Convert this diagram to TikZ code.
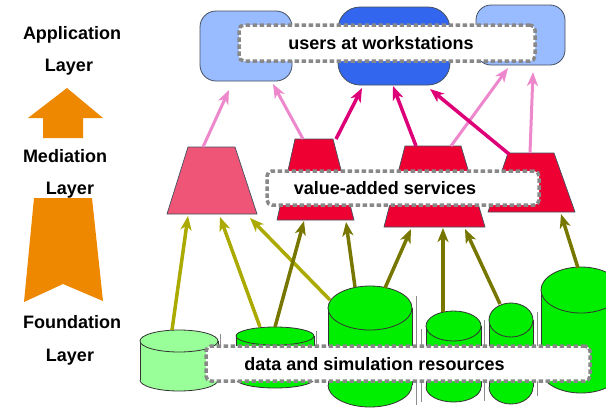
\documentclass[tikz,border=0pt]{standalone}
\usepackage{fontspec}
\setmainfont{Liberation Sans}
\usetikzlibrary{arrows.meta}

\definecolor{lightblue}{HTML}{99BBFF}
\definecolor{deepblue}{HTML}{3366EE}
\definecolor{rosered}{HTML}{EE5577}
\definecolor{brightred}{HTML}{EE0033}
\definecolor{palegreen}{HTML}{99FF99}
\definecolor{limegreen}{HTML}{00EE00}
\definecolor{ochre}{HTML}{EE8800}
\definecolor{pinkline}{HTML}{EE88CC}
\definecolor{magline}{HTML}{DD0077}
\definecolor{olivelight}{HTML}{AAAA00}
\definecolor{olivedark}{HTML}{777700}
\definecolor{dotgray}{HTML}{888888}
\definecolor{edgegray}{HTML}{445060}

% storage drum: centre x, top-centre y, x radius, y radius, bottom-centre y, fill
\newcommand{\tank}[6]{%
  \fill[#6] (#1-#3,#2) rectangle (#1+#3,#5);
  \fill[#6] (#1,#5) ellipse[x radius=#3, y radius=#4];
  \begin{scope}
    \clip (#1-#3-2,#5) rectangle (#1+#3+2,#5+#4+2);
    \draw[tankedge] (#1,#5) ellipse[x radius=#3, y radius=#4];
  \end{scope}
  \draw[tankedge] (#1-#3,#2) -- (#1-#3,#5) (#1+#3,#2) -- (#1+#3,#5);
  \draw[tankedge, fill=#6] (#1,#2) ellipse[x radius=#3, y radius=#4];
}

\begin{document}
\begin{tikzpicture}[x=1pt, y=-1pt,
  layerlbl/.style={font=\fontsize{18}{20}\selectfont\bfseries, anchor=base, inner sep=0pt},
  boxlbl/.style={font=\fontsize{18}{20}\selectfont\bfseries, anchor=base, inner sep=0pt},
  dotbox/.style={draw=dotgray, line width=3.5pt, dash pattern=on 4.5pt off 2.5pt,
    fill=white, rounded corners=5pt, inner sep=0pt},
  station/.style={draw=edgegray, line width=0.8pt, rounded corners=#1, inner sep=0pt},
  service/.style={draw=edgegray, line width=0.7pt},
  tankedge/.style={draw=black!80, line width=0.8pt},
  shadowline/.style={draw=black!45, line width=0.8pt},
  tip/.style={-{Stealth[length=14pt, width=11pt, inset=4pt]}},
  pinkarrow/.style={tip, draw=pinkline, line width=3pt},
  magarrow/.style={tip, draw=magline, line width=3.5pt},
  feedlight/.style={tip, draw=olivelight, line width=3.5pt},
  feeddark/.style={tip, draw=olivedark, line width=3.5pt},
]
\useasboundingbox (0,0) rectangle (606,408);
\fill[white] (0,0) rectangle (606,408);

% ---- layer captions and direction arrows ----
\node[layerlbl] (appA) at (72,39) {Application};
\node[layerlbl] (appB) at (69,71) {Layer};
\node[layerlbl] (medA) at (65,162) {Mediation};
\node[layerlbl] (medB) at (70,194) {Layer};
\node[layerlbl] (fndA) at (72,328) {Foundation};
\node[layerlbl] (fndB) at (70,361) {Layer};

\fill[ochre] (67,88) -- (103,118) -- (83,118) -- (83,138) -- (43,138)
  -- (43,118) -- (28,118) -- cycle;
\fill[ochre] (34,198) -- (92,198) -- (103,301) -- (63,284) -- (24,302) -- cycle;

% ---- application layer: workstations ----
\node[station=16pt, fill=lightblue, minimum width=92pt, minimum height=70pt] (wsL) at (246,46) {};
\node[station=22pt, fill=deepblue, minimum width=112pt, minimum height=78pt] (wsM) at (394,46) {};
\node[station=15pt, fill=lightblue, minimum width=89pt, minimum height=60pt] (wsR) at (520.5,35) {};

% ---- mediation layer: services ----
\draw[service, fill=rosered] (188,147) -- (235,147) -- (257,214) -- (167,214) -- cycle;
\draw[service, fill=brightred] (295,139) -- (333,139) -- (354,220) -- (277,220) -- cycle;
\draw[service, fill=brightred] (405,146) -- (461,146) -- (485,227) -- (384,227) -- cycle;
\draw[service, fill=brightred] (508,153) -- (554,153) -- (575,212) -- (488,212) -- cycle;

% ---- foundation layer: resources ----
\draw[shadowline] (220,334) -- (220,352);
\draw[shadowline] (316,331) -- (316,350);
\draw[shadowline] (416,296) -- (416,405);
\draw[shadowline] (421,329) -- (421,402);
\draw[shadowline] (484,320) -- (484,401);
\draw[shadowline] (537,312) -- (537,396);
\tank{179}{341}{39}{11}{380}{palegreen}
\tank{275}{336}{39}{9}{379}{limegreen}
\tank{370}{308}{42}{22}{385}{limegreen}
\tank{453.5}{326}{27.5}{15}{387}{limegreen}
\tank{511}{320}{22}{17}{387}{limegreen}
\tank{581}{290}{40}{23}{370}{limegreen}

% ---- connector end points ----
\coordinate (wsL-a) at (229,90);
\coordinate (wsL-b) at (273,84);
\coordinate (wsR-a) at (508,68);
\coordinate (wsR-b) at (533,72);
\coordinate (wsM-a) at (362,88);
\coordinate (wsM-b) at (393,86);
\coordinate (wsM-c) at (430,89);

\coordinate (sv1-top) at (203,147);
\coordinate (sv2-topL) at (303,139);
\coordinate (sv2-topR) at (336,139);
\coordinate (sv3-topL) at (416,146);
\coordinate (sv3-topR) at (451,146);
\coordinate (sv4-topL) at (509,154);
\coordinate (sv4-topR) at (530,153);

\coordinate (sv1-a) at (188,216);
\coordinate (sv1-b) at (220,217);
\coordinate (sv1-c) at (250,218);
\coordinate (sv2-a) at (304,221);
\coordinate (sv2-b) at (346,222);
\coordinate (sv3-a) at (411,229);
\coordinate (sv3-b) at (443,228);
\coordinate (sv3-c) at (465,229);
\coordinate (sv4-a) at (561,214);

\coordinate (rs1) at (172,330);
\coordinate (rs2-a) at (260,327);
\coordinate (rs2-b) at (275,327);
\coordinate (rs3-a) at (330,300);
\coordinate (rs3-b) at (355,287);
\coordinate (rs3-c) at (385,288);
\coordinate (rs4) at (443,312);
\coordinate (rs5) at (500,304);
\coordinate (rs6) at (578,268);

% ---- services feed workstations ----
\draw[pinkarrow] (sv1-top) -- (wsL-a);
\draw[pinkarrow] (sv2-topL) -- (wsL-b);
\draw[pinkarrow] (sv3-topR) -- (wsR-a);
\draw[pinkarrow] (sv4-topR) -- (wsR-b);
\draw[magarrow] (sv2-topR) -- (wsM-a);
\draw[magarrow] (sv3-topL) -- (wsM-b);
\draw[magarrow] (sv4-topL) -- (wsM-c);

% ---- resources feed services ----
\draw[feedlight] (rs1) -- (sv1-a);
\draw[feedlight] (rs2-a) -- (sv1-b);
\draw[feedlight] (rs3-a) -- (sv1-c);
\draw[feeddark] (rs2-b) -- (sv2-a);
\draw[feeddark] (rs3-b) -- (sv2-b);
\draw[feeddark] (rs3-c) -- (sv3-a);
\draw[feeddark] (rs4) -- (sv3-b);
\draw[feeddark] (rs5) -- (sv3-c);
\draw[feeddark] (rs6) -- (sv4-a);

% ---- layer captions on dotted panels ----
\node[dotbox, minimum width=296pt, minimum height=36pt] (usersbox) at (387,43) {};
\node[boxlbl] (userstxt) at (381,49) {users at workstations};
\node[dotbox, minimum width=272pt, minimum height=34pt] (servbox) at (403,188) {};
\node[boxlbl] (servtxt) at (385,194) {value-added services};
\node[dotbox, minimum width=384pt, minimum height=35pt] (databox) at (398,363.5) {};
\node[boxlbl] (datatxt) at (374.5,370) {data and simulation resources};
\end{tikzpicture}
\end{document}
